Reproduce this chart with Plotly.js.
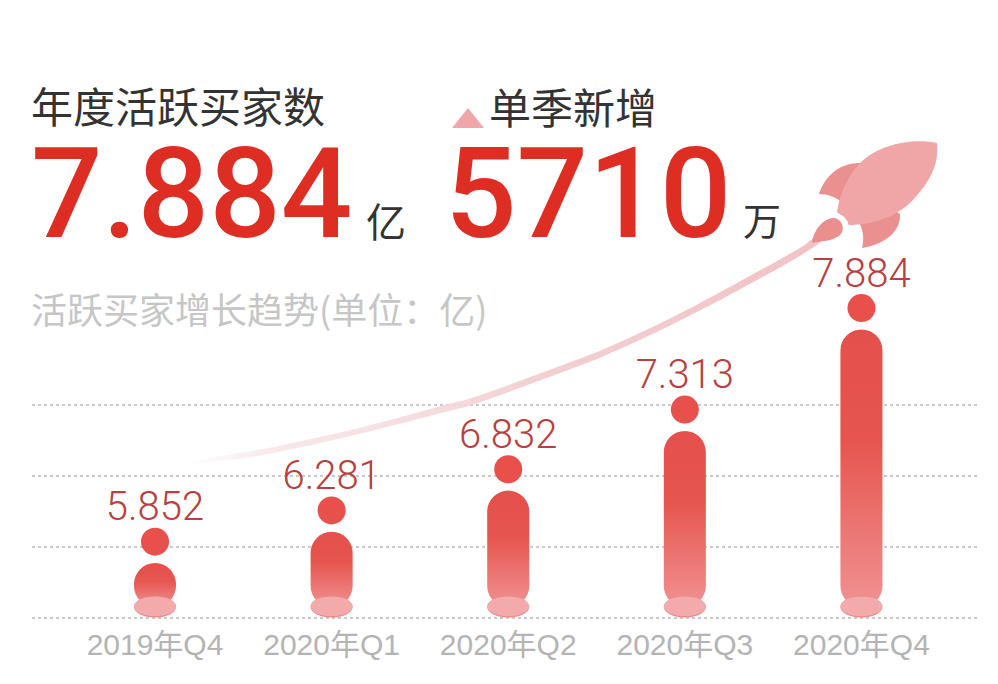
<!DOCTYPE html>
<html>
<head>
<meta charset="utf-8">
<script src="https://cdn.plot.ly/plotly-3.0.1.min.js"></script>
<style>html,body{margin:0;padding:0;background:#fff}#c{width:998px;height:684px}</style>
</head>
<body>
<div id="c"></div>
<script>
const categories = ['2019年Q4','2020年Q1','2020年Q2','2020年Q3','2020年Q4'];
const buyerValues = [5.852,6.281,6.832,7.313,7.884];
// The source graphic is pictorial: its bar lengths are not proportional to the values.
const barHeights = [0.62,1.06,1.64,2.48,3.91];
const gridLevels = [1,2,3,4];
const trailX = [187,263,363,447,470,537,603,670,737,803,822];
const trailY = [463,452,430,408,402,378,353,322,287,250,236];
const trailHalf = [2,3,3,3.5,3.5,3.5,3.5,3.5,4,4,4];

const barBase = 1.155, dotGap = 0.3, labelGap = 0.74;
const tops = barHeights.map(h => h + barBase);
const lat = 'Liberation Sans, "Noto Sans CJK SC", sans-serif';
const rob = 'Roboto, "Liberation Sans", sans-serif';
const cjk = '"Noto Sans CJK SC", sans-serif';

const trailPolyX = trailX.concat(trailX.slice().reverse());
const trailPolyY = trailY.map((y,i)=>y-trailHalf[i]).concat(trailY.map((y,i)=>y+trailHalf[i]).reverse());

const traces = [
  {type:'bar', x:categories, y:barHeights, base:barBase, xaxis:'x', yaxis:'y',
   marker:{color:'#e6514d', cornerradius:21, line:{width:0}}, hoverinfo:'skip', showlegend:false},
  {type:'scatter', mode:'markers', x:categories, y:tops.map(t=>t+dotGap), xaxis:'x', yaxis:'y',
   marker:{size:28, color:'#e8504c'}, hoverinfo:'skip', showlegend:false},
  {type:'scatter', mode:'text', x:categories, y:tops.map(t=>t+labelGap), xaxis:'x', yaxis:'y',
   text:buyerValues.map(v=>v.toFixed(3)), textposition:'middle center',
   textfont:{family:rob, size:40, color:'#b8403e', weight:300}, hoverinfo:'skip', showlegend:false},
  {type:'scatter', mode:'lines', x:trailPolyX, y:trailPolyY, xaxis:'x2', yaxis:'y2',
   fill:'toself', line:{width:0, shape:'spline', smoothing:0.8},
   fillgradient:{type:'horizontal', colorscale:[[0,'rgba(245,215,218,0)'],[0.15,'rgba(245,222,224,0.7)'],[0.55,'rgba(243,208,210,1)'],[1,'rgba(241,194,198,1)']]},
   hoverinfo:'skip', showlegend:false}
];

const ann = (text,x,y,size,color,family,weight) => ({text, x, y, xref:'x2', yref:'y2', xanchor:'left', yanchor:'middle',
  showarrow:false, font:{size, color, family, weight:weight||400}});

const annotations = [
  ann('年度活跃买家数',29,104,42,'#333333',cjk),
  ann('7.884',29,194,126,'#de2e24',rob,500),
  ann('亿',364,220,40,'#333333',cjk),
  ann('单季新增',487,105,42,'#333333',cjk),
  ann('5710',443,194,126,'#de2e24',rob,500),
  ann('万',741,218,38,'#333333',cjk),
  ann('活跃买家增长趋势(单位：亿)',29,308,36,'#c6c6c6',cjk)
];

const deco = (path,fill,extra) => Object.assign({type:'path', xref:'x2', yref:'y2', path, fillcolor:fill, line:{width:0}, layer:'above'}, extra||{});
const shapes = [];
categories.forEach(c=>{
  const e = (y0,y1,fill)=>({type:'circle', xref:'x', yref:'y', xsizemode:'pixel', ysizemode:'pixel', xanchor:c, yanchor:barBase,
    x0:-21,x1:21,y0,y1, fillcolor:fill, line:{width:0}, layer:'above'});
  shapes.push(e(-10.5,10.5,'#ee8a8a'));
  shapes.push(e(-9,10.5,'#f3aaaa'));
});
shapes.push(deco('M452,128 L468,108 L484,128 Z','#efa6a8'));
shapes.push(deco('M819,194 C824,178 838,162 862,163 L870,180 L845,205 C838,197 826,194 819,194 Z','#ea9090'));
shapes.push(deco('M900,214 C901,232 885,244 862,248 C864,240 864,231 858,220 L885,205 Z','#ea9090'));
shapes.push(deco('M937,143 C915,138 880,143 860,163 C848,176 840,192 837,212 L848,225 C872,225 897,217 913,200 C930,181 939,165 937,143 Z','#f0a6a6'));
shapes.push({type:'path', xref:'x2', yref:'y2', path:'M829,214 C842,213 850,224 846,233', line:{width:4,color:'#ffffff'}, layer:'above'});
shapes.push(deco('M812,243 C814,228 825,217 835,218 C842,220 845,228 841,234 C835,241 822,241 812,243 Z','#ea8e8e'));

const layout = {
  width:998, height:684, margin:{l:0,r:0,t:0,b:0}, paper_bgcolor:'#ffffff', plot_bgcolor:'rgba(0,0,0,0)',
  showlegend:false, bargap:0.762, hovermode:false,
  xaxis:{type:'category', domain:[32/998,978/998], range:[-0.6965,4.66], anchor:'y', showgrid:false, zeroline:false,
         showline:false, ticks:'', tickfont:{family:lat, size:30, color:'#b4b4b4'}, tickmode:'array', tickvals:categories, ticktext:categories, automargin:false},
  yaxis:{domain:[60/684,1], range:[1-6/71,1+618/71], anchor:'x', tickmode:'array', tickvals:gridLevels, ticktext:gridLevels.map(()=>''),
         showgrid:true, gridcolor:'#c9c9c9', griddash:'dot', gridwidth:1.3, zeroline:false, showline:false, ticks:'', automargin:false},
  xaxis2:{domain:[0,1], range:[0,998], anchor:'y2', visible:false, fixedrange:true},
  yaxis2:{domain:[0,1], range:[684,0], anchor:'x2', visible:false, fixedrange:true},
  annotations, shapes
};

Plotly.newPlot('c', traces, layout, {displayModeBar:false, staticPlot:true}).then(gd=>{
  const svg = gd.querySelector('svg.main-svg');
  const ns = 'http://www.w3.org/2000/svg';
  const defs = svg.querySelector('defs') || svg.insertBefore(document.createElementNS(ns,'defs'), svg.firstChild);
  const g = document.createElementNS(ns,'linearGradient');
  g.setAttribute('id','barFade'); g.setAttribute('x1','0'); g.setAttribute('y1','0'); g.setAttribute('x2','0'); g.setAttribute('y2','1');
  [[0,'#e5504c'],[0.4,'#e6554f'],[1,'#f09292']].forEach(([o,c])=>{
    const s = document.createElementNS(ns,'stop'); s.setAttribute('offset',o); s.setAttribute('stop-color',c); g.appendChild(s);
  });
  defs.appendChild(g);
  gd.querySelectorAll('.barlayer .point path').forEach(p=>{ p.style.fill = 'url(#barFade)'; });
});
</script>
</body>
</html>
